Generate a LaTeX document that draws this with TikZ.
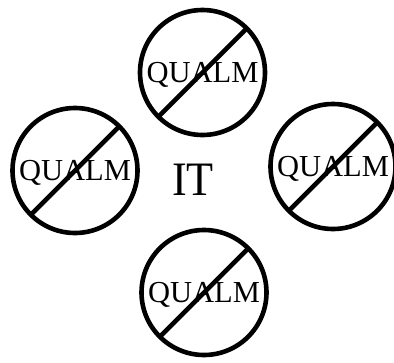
\documentclass[tikz,border=0pt]{standalone}
\usepackage{fontspec}
\setmainfont{Liberation Serif}
\begin{document}
\begin{tikzpicture}[x=1pt,y=-1pt,
  nosign/.style={draw=black,line width=4.6pt,circle,inner sep=0pt,outer sep=0pt,
    minimum size=125pt,font=\fontsize{30.5}{36}\selectfont,
    text height=20.2pt,text depth=0pt},
  slash/.style={draw=black,line width=4.6pt}]
\useasboundingbox (0,0) rectangle (394,362);
\node[nosign] (top) at (202.5,72.5) {QUALM};
\node[nosign] (left) at (75,170.5) {QUALM};
\node[nosign] (right) at (333,166.5) {QUALM};
\node[nosign] (bottom) at (204,292.5) {QUALM};
\foreach \n in {top,left,right,bottom}
  \draw[slash] (\n.45) -- (\n.225);
\node[inner sep=0pt,anchor=base,font=\fontsize{48}{56}\selectfont] (it) at (193,195) {\scalebox{0.92}[1]{IT}};
\end{tikzpicture}
\end{document}
